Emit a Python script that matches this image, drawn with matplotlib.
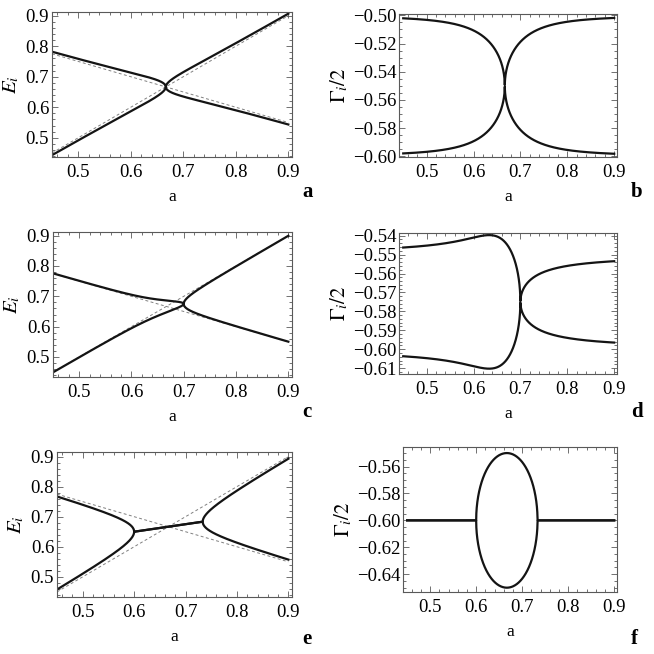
import numpy as np
import matplotlib
matplotlib.use('Agg')
import matplotlib.pyplot as plt
from matplotlib.ticker import MultipleLocator, AutoMinorLocator

plt.rcParams['font.family'] = ['Liberation Serif', 'DejaVu Serif']
plt.rcParams['mathtext.fontset'] = 'stix'

# model: H = [[1 - a/2 - i*g1, w], [w, a - i*g2]]
a_range = [0.45, 0.9]
half_widths = [(0.50, 0.60), (0.55, 0.60), (0.60, 0.60)]   # gamma_1/2, gamma_2/2 per row
couplings = [0.05, 0.025 + 0.0249j, 0.05j]                 # omega per row
panel_letters = ['a', 'b', 'c', 'd', 'e', 'f']

# y ranges and tick steps
e_ylims = [(0.437, 0.912), (0.434, 0.912), (0.433, 0.915)]
g_ylims = [(-0.6005, -0.4990), (-0.6131, -0.5386), (-0.6532, -0.5455)]
g_steps = [0.02, 0.01, 0.02]

# pixel boxes (left, top, right, bottom)
boxes = [(52, 12, 292, 157), (399, 14, 617, 157),
         (53, 232, 292, 377), (399, 233, 617, 374),
         (57, 452, 292, 597), (403, 447, 617, 592)]

W = H = 654
fig = plt.figure(figsize=(W / 100, H / 100), dpi=100)


def add_ax(box):
    l, t, r, b = box
    return fig.add_axes([l / W, 1 - b / H, (r - l) / W, (b - t) / H])


def style(ax, ystep, yminor):
    ax.xaxis.set_major_locator(MultipleLocator(0.1))
    ax.xaxis.set_minor_locator(AutoMinorLocator(5))
    ax.yaxis.set_major_locator(MultipleLocator(ystep))
    ax.yaxis.set_minor_locator(AutoMinorLocator(yminor))
    ax.tick_params(which='both', direction='in', top=True, right=True,
                   color='0.35', width=0.6, labelsize=13.5, pad=2)
    ax.tick_params(which='major', length=4)
    ax.tick_params(which='minor', length=2)
    ax.tick_params(axis='x', pad=5)
    for s in ax.spines.values():
        s.set_color('0.35')
        s.set_linewidth(0.8)
    ax.set_xlabel('a', fontsize=12.5, labelpad=6)


a = np.linspace(a_range[0], a_range[1], 20001)

for row in range(3):
    g1, g2 = half_widths[row]
    w = couplings[row]
    e1 = 1 - a / 2 - 1j * g1
    e2 = a - 1j * g2
    mats = np.zeros((a.size, 2, 2), dtype=complex)
    mats[:, 0, 0] = e1
    mats[:, 1, 1] = e2
    mats[:, 0, 1] = w
    mats[:, 1, 0] = w
    ev = np.linalg.eigvals(mats)
    E = np.sort(ev.real, axis=1)
    G = np.sort(ev.imag, axis=1)

    axE = add_ax(boxes[2 * row])
    axE.plot(a, e1.real, color='0.5', lw=0.7, dashes=(3, 2.5))
    axE.plot(a, e2.real, color='0.5', lw=0.7, dashes=(3, 2.5))
    axE.plot(a, E[:, 0], color='0.08', lw=1.6)
    axE.plot(a, E[:, 1], color='0.08', lw=1.6)
    axE.set_xlim(0.45, 0.907)
    axE.set_ylim(*e_ylims[row])
    style(axE, 0.1, 5)
    axE.set_ylabel('$E_i$', fontsize=15, labelpad=3)

    axG = add_ax(boxes[2 * row + 1])
    axG.plot(a, G[:, 0], color='0.08', lw=1.6)
    axG.plot(a, G[:, 1], color='0.08', lw=1.6)
    axG.set_xlim(0.441, 0.906)
    axG.set_ylim(*g_ylims[row])
    style(axG, g_steps[row], 4 if g_steps[row] == 0.02 else 5)
    axG.yaxis.set_major_formatter(plt.FuncFormatter(
        lambda v, p: ('\u2212%.2f' % abs(v)) if v < 0 else '%.2f' % v))
    axG.set_ylabel(r'$\Gamma_i/2$', fontsize=15, labelpad=2)

    ybase = [197, 417, 644][row]
    fig.text(302 / W, 1 - ybase / H, panel_letters[2 * row], fontsize=15,
             fontweight='bold', ha='left', va='baseline')
    fig.text(631 / W, 1 - ybase / H, panel_letters[2 * row + 1], fontsize=15,
             fontweight='bold', ha='left', va='baseline')

fig.savefig('out.png', dpi=100)
